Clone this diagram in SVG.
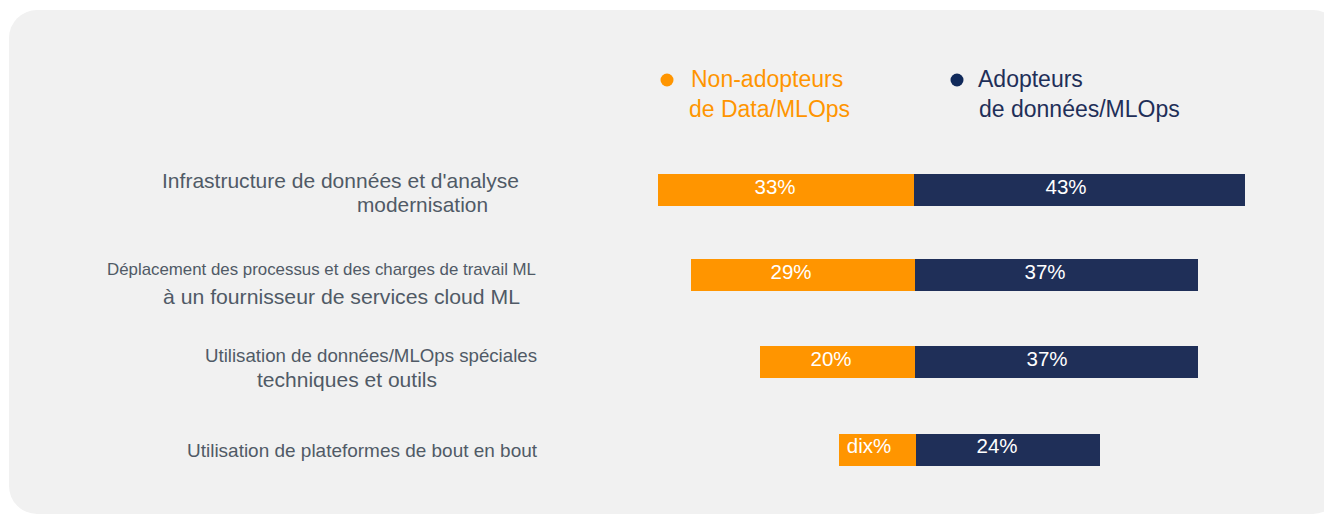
<svg xmlns="http://www.w3.org/2000/svg" width="1324" height="515" viewBox="0 0 1324 515">
<style>
.lbl{font-family:"Liberation Sans",Arial,sans-serif;fill:#505a66;}
.val{font-family:"Liberation Sans",Arial,sans-serif;fill:#ffffff;font-size:20.5px;text-anchor:middle;}
.leg{font-family:"Liberation Sans",Arial,sans-serif;font-size:23px;}
.or{fill:#ff9500;}
.nv{fill:#1f2f58;}
</style>
<rect x="0" y="0" width="1324" height="515" fill="#ffffff"/>
<rect x="9" y="10" width="1332" height="504" rx="28" fill="#f1f1f1"/>
<g id="legend">
<circle cx="667" cy="80" r="6.5" fill="#ff9500"/>
<text class="leg" x="691" y="87" fill="#ff9500">Non-adopteurs</text>
<text class="leg" x="689" y="117" fill="#ff9500">de Data/MLOps</text>
<circle cx="957" cy="80" r="6.5" fill="#10295a"/>
<text class="leg" x="978" y="87" fill="#1f2f58">Adopteurs</text>
<text class="leg" x="979" y="117" fill="#1f2f58">de données/MLOps</text>
</g>
<g id="row1">
<text class="lbl" x="162" y="188" font-size="21" textLength="357" lengthAdjust="spacingAndGlyphs">Infrastructure de données et d'analyse</text>
<text class="lbl" x="357" y="212" font-size="21" textLength="131" lengthAdjust="spacingAndGlyphs">modernisation</text>
<rect class="or" x="658" y="174" width="256" height="32"/>
<rect class="nv" x="914" y="174" width="331" height="32"/>
<text class="val" x="775" y="194">33%</text>
<text class="val" x="1066" y="194">43%</text>
</g>
<g id="row2">
<text class="lbl" x="107" y="275" font-size="17" textLength="429" lengthAdjust="spacingAndGlyphs">Déplacement des processus et des charges de travail ML</text>
<text class="lbl" x="163" y="304" font-size="21" textLength="357" lengthAdjust="spacingAndGlyphs">à un fournisseur de services cloud ML</text>
<rect class="or" x="691" y="259" width="224" height="32"/>
<rect class="nv" x="915" y="259" width="283" height="32"/>
<text class="val" x="791" y="279">29%</text>
<text class="val" x="1045" y="279">37%</text>
</g>
<g id="row3">
<text class="lbl" x="205" y="362" font-size="18.6" textLength="332" lengthAdjust="spacingAndGlyphs">Utilisation de données/MLOps spéciales</text>
<text class="lbl" x="257" y="387" font-size="21" textLength="180" lengthAdjust="spacingAndGlyphs">techniques et outils</text>
<rect class="or" x="760" y="346" width="155" height="32"/>
<rect class="nv" x="915" y="346" width="283" height="32"/>
<text class="val" x="831" y="366">20%</text>
<text class="val" x="1047" y="366">37%</text>
</g>
<g id="row4">
<text class="lbl" x="187" y="457" font-size="19" textLength="350" lengthAdjust="spacingAndGlyphs">Utilisation de plateformes de bout en bout</text>
<rect class="or" x="839" y="434" width="77" height="32"/>
<rect class="nv" x="916" y="434" width="184" height="32"/>
<text class="val" x="869" y="453">dix%</text>
<text class="val" x="997" y="453">24%</text>
</g>
<g id="connectors"></g>
</svg>
